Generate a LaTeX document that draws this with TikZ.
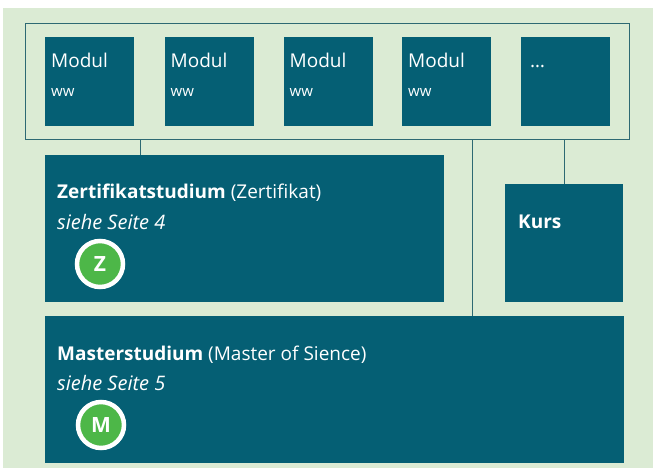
\documentclass[tikz,border=0pt]{standalone}
\usepackage{fontspec}
\setmainfont{Open Sans}
\usepackage{tikz}
\usetikzlibrary{calc,positioning}

\definecolor{petrol}{RGB}{5,95,116}
\definecolor{mint}{RGB}{219,235,212}
\definecolor{framec}{RGB}{45,105,115}
\definecolor{badge}{RGB}{77,183,72}

\tikzset{
  box/.style={fill=petrol, draw=none, anchor=north west, inner sep=0pt},
  txt/.style={anchor=base west, text=white, inner sep=0pt},
  link/.style={draw=framec, line width=0.9pt},
  badgec/.style={circle, fill=badge, draw=white, line width=4.5pt,
    minimum size=46pt, inner sep=0pt, text=white, font=\fontsize{21}{21}\selectfont\bfseries}
}

\begin{document}
\begin{tikzpicture}[x=1pt,y=-1pt]
	\useasboundingbox (0,0) rectangle (658,469);
	\fill[mint] (3,8) rectangle (653,468);

	% modules
	\node[box, draw=framec, fill=none, line width=0.9pt, minimum width=604pt, minimum height=116pt] (frame) at (25,23) {};
	\foreach \i/\x in {1/45,2/164.5,3/283.5,4/402,5/521} {
		\node[box, minimum width=89pt, minimum height=89pt] (m\i) at (\x,37) {};
	}
	\foreach \i in {1,...,4} {
		\node[txt, font=\fontsize{19}{19}\selectfont] at ([shift={(6,30)}]m\i.north west) {Modul};
		\node[txt, font=\fontsize{15}{15}\selectfont] at ([shift={(6,59)}]m\i.north west) {ww};
	}
	\node[txt, font=\fontsize{19}{19}\selectfont] at ([shift={(9,30)}]m5.north west) {\dots};

	% studies
	\node[box, minimum width=399pt, minimum height=147pt] (zert) at (45,155) {};
	\node[box, minimum width=118pt, minimum height=118pt] (kurs) at (505,184) {};
	\node[box, minimum width=579pt, minimum height=147pt] (master) at (45,316) {};

	\node[txt, font=\fontsize{19}{19}\selectfont] at ([shift={(12,43)}]zert.north west) {\textbf{Zertifikatstudium} (Zertifikat)};
	\node[txt, font=\fontsize{20}{20}\selectfont\itshape] at ([shift={(12,74)}]zert.north west) {siehe Seite 4};
	\node[badgec] (z) at ([shift={(55,109)}]zert.north west) {Z};

	\node[txt, font=\fontsize{19}{19}\selectfont\bfseries] at ([shift={(13,44)}]kurs.north west) {Kurs};

	\node[txt, font=\fontsize{19}{19}\selectfont] at ([shift={(12,44)}]master.north west) {\textbf{Masterstudium} (Master of Sience)};
	\node[txt, font=\fontsize{20}{20}\selectfont\itshape] at ([shift={(12,74)}]master.north west) {siehe Seite 5};
	\node[badgec] (m) at ([shift={(56,109)}]master.north west) {M};

	% links
	\draw[link] ([xshift=95pt]zert.north west) -- ([xshift=95pt]zert.north west |- frame.south);
	\draw[link] ([xshift=427pt]master.north west) -- ([xshift=427pt]master.north west |- frame.south);
	\draw[link] (kurs.north) -- (kurs.north |- frame.south);
\end{tikzpicture}
\end{document}
